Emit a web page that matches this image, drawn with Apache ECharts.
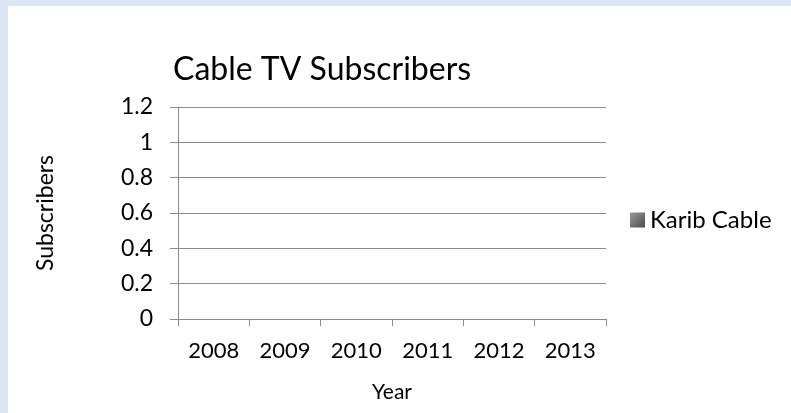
<!DOCTYPE html>
<html>
<head>
<meta charset="utf-8">
<title>Cable TV Subscribers</title>
<script src="https://cdn.jsdelivr.net/npm/echarts@6/dist/echarts.min.js"></script>
<style>
  html, body { margin: 0; padding: 0; width: 791px; height: 413px; background: #dde7f3; overflow: hidden; }
  #chart { position: absolute; left: 8px; top: 6px; width: 783px; height: 407px; background: #ffffff; }
</style>
</head>
<body>
<div id="chart"></div>
<script>
// Yearly categories and subscriber counts (no subscribers recorded yet)
const years = ['2008', '2009', '2010', '2011', '2012', '2013'];
const karibCable = [0, 0, 0, 0, 0, 0];
const seriesName = 'Karib Cable';

const FONT = 'Lato';
const chart = echarts.init(document.getElementById('chart'), null, { renderer: 'canvas' });

chart.setOption({
  animation: false,
  backgroundColor: '#ffffff',
  title: {
    text: 'Cable TV Subscribers',
    left: 160,
    top: 43,
    textStyle: { fontFamily: FONT, fontSize: 32, fontWeight: 'normal', color: '#000000' }
  },
  legend: {
    data: [seriesName],
    orient: 'vertical',
    left: 617,
    top: 197,
    itemWidth: 15,
    itemHeight: 15,
    itemGap: 6,
    icon: 'rect',
    textStyle: { fontFamily: FONT, fontSize: 24, color: '#000000' }
  },
  grid: { left: 170, right: 185, top: 101, bottom: 94, containLabel: false },
  xAxis: {
    type: 'category',
    data: years,
    boundaryGap: true,
    name: 'Year',
    nameLocation: 'middle',
    nameGap: 63,
    nameTextStyle: { fontFamily: FONT, fontSize: 21, color: '#000000' },
    axisLine: { lineStyle: { color: '#8c8c8c', width: 1 } },
    axisTick: { show: true, length: 7, alignWithLabel: false, lineStyle: { color: '#8c8c8c' } },
    axisLabel: { margin: 21, fontFamily: FONT, fontSize: 22, color: '#000000' },
    splitLine: { show: false }
  },
  yAxis: {
    type: 'value',
    min: 0,
    max: 1.2,
    interval: 0.2,
    name: 'Subscribers',
    nameLocation: 'middle',
    nameGap: 121,
    nameTextStyle: { fontFamily: FONT, fontSize: 23, color: '#000000' },
    axisLine: { show: true, lineStyle: { color: '#8c8c8c', width: 1 } },
    axisTick: { show: true, length: 8, lineStyle: { color: '#8c8c8c' } },
    axisLabel: { margin: 25, fontFamily: FONT, fontSize: 23, color: '#000000' },
    splitLine: { show: true, lineStyle: { color: '#8c8c8c', width: 1 } }
  },
  series: [{
    name: seriesName,
    type: 'bar',
    data: karibCable,
    barWidth: '60%',
    itemStyle: {
      color: new echarts.graphic.LinearGradient(0, 0, 1, 1, [
        { offset: 0, color: '#9a9a9a' },
        { offset: 1, color: '#4a4a4a' }
      ])
    }
  }]
});
</script>
</body>
</html>
